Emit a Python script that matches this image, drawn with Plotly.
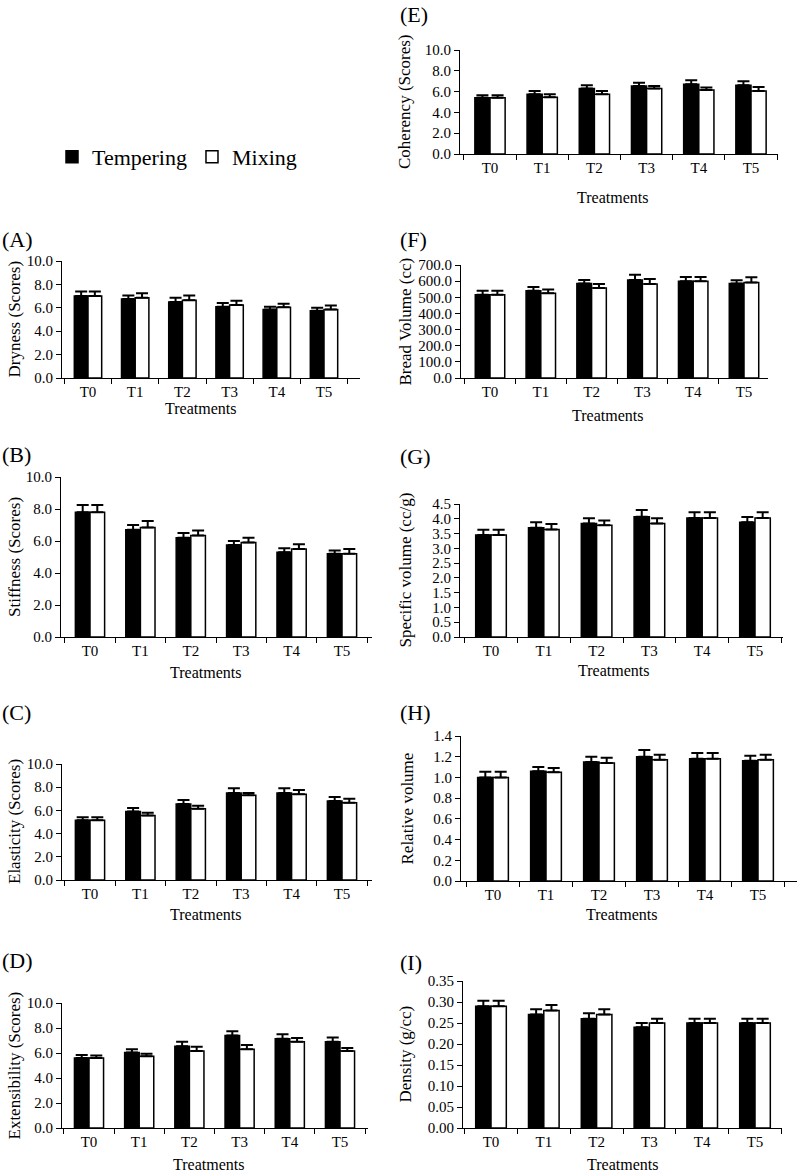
import plotly.graph_objects as go

treatments = ["T0", "T1", "T2", "T3", "T4", "T5"]

# (A) Dryness
dryness_tempering = [7.0, 6.75, 6.5, 6.1, 5.85, 5.75]
dryness_tempering_err = [0.4, 0.3, 0.35, 0.3, 0.25, 0.25]
dryness_mixing = [7.0, 6.85, 6.65, 6.25, 6.05, 5.85]
dryness_mixing_err = [0.4, 0.4, 0.4, 0.35, 0.3, 0.35]

# (B) Stiffness
stiffness_tempering = [7.8, 6.7, 6.2, 5.75, 5.3, 5.2]
stiffness_tempering_err = [0.45, 0.3, 0.3, 0.25, 0.25, 0.2]
stiffness_mixing = [7.8, 6.85, 6.35, 5.9, 5.5, 5.2]
stiffness_mixing_err = [0.45, 0.4, 0.3, 0.3, 0.3, 0.3]

# (C) Elasticity
elasticity_tempering = [5.15, 5.9, 6.55, 7.5, 7.5, 6.8]
elasticity_tempering_err = [0.25, 0.3, 0.35, 0.4, 0.4, 0.35]
elasticity_mixing = [5.15, 5.55, 6.15, 7.3, 7.4, 6.65]
elasticity_mixing_err = [0.25, 0.25, 0.25, 0.2, 0.35, 0.35]

# (D) Extensibility
extensibility_tempering = [5.6, 6.05, 6.55, 7.4, 7.15, 6.9]
extensibility_tempering_err = [0.25, 0.25, 0.35, 0.35, 0.35, 0.35]
extensibility_mixing = [5.6, 5.75, 6.15, 6.3, 6.9, 6.15]
extensibility_mixing_err = [0.2, 0.2, 0.35, 0.35, 0.3, 0.25]

# (E) Coherency
coherency_tempering = [5.4, 5.75, 6.3, 6.55, 6.7, 6.6]
coherency_tempering_err = [0.25, 0.3, 0.3, 0.3, 0.4, 0.4]
coherency_mixing = [5.4, 5.45, 5.75, 6.3, 6.15, 6.05]
coherency_mixing_err = [0.25, 0.3, 0.3, 0.25, 0.25, 0.4]

# (F) Bread volume
volume_tempering = [515, 540, 585, 607, 600, 585]
volume_tempering_err = [25, 23, 22, 32, 25, 20]
volume_mixing = [515, 525, 558, 583, 600, 591]
volume_mixing_err = [25, 23, 25, 30, 25, 33]

# (G) Specific volume
specific_tempering = [3.45, 3.7, 3.84, 4.07, 4.03, 3.88]
specific_tempering_err = [0.18, 0.18, 0.18, 0.23, 0.19, 0.18]
specific_mixing = [3.45, 3.64, 3.78, 3.84, 4.03, 4.03]
specific_mixing_err = [0.18, 0.18, 0.16, 0.18, 0.19, 0.19]

# (H) Relative volume
relative_tempering = [1.0, 1.06, 1.15, 1.2, 1.18, 1.16]
relative_tempering_err = [0.055, 0.04, 0.05, 0.065, 0.055, 0.05]
relative_mixing = [1.0, 1.05, 1.14, 1.17, 1.18, 1.17]
relative_mixing_err = [0.055, 0.04, 0.05, 0.05, 0.055, 0.05]

# (I) Density
density_tempering = [0.29, 0.27, 0.26, 0.24, 0.25, 0.25]
density_tempering_err = [0.013, 0.013, 0.013, 0.01, 0.01, 0.01]
density_mixing = [0.29, 0.28, 0.27, 0.25, 0.25, 0.25]
density_mixing_err = [0.013, 0.013, 0.013, 0.01, 0.01, 0.01]

W, H = 798, 1173
FONT = "Liberation Serif, Times New Roman, serif"


def fx(v):
    return v / W


def fy(v):
    return 1 - v / H


# letter, y title, data, y max, dtick, format, then pixel layout:
# x0, x1, top, bottom, centre of T0, centre of T5, label y, title x, treatments x, treatments y
panels = [
    ("(A)", "Dryness (Scores)", dryness_tempering, dryness_tempering_err, dryness_mixing, dryness_mixing_err,
     10, 2, ".1f", 62, 360, 261, 378, 88, 324, 239, 14, 200, 409),
    ("(B)", "Stiffness (Scores)", stiffness_tempering, stiffness_tempering_err, stiffness_mixing, stiffness_mixing_err,
     10, 2, ".1f", 61, 372, 477, 637, 90, 342, 454, 14, 205, 672),
    ("(C)", "Elasticity (Scores)", elasticity_tempering, elasticity_tempering_err, elasticity_mixing, elasticity_mixing_err,
     10, 2, ".1f", 62, 372, 764, 880, 90, 342, 713, 14, 205, 914),
    ("(D)", "Extensibility (Scores)", extensibility_tempering, extensibility_tempering_err, extensibility_mixing, extensibility_mixing_err,
     10, 2, ".1f", 62, 368, 1003, 1128, 89, 340, 960, 14, 208, 1164),
    ("(E)", "Coherency (Scores)", coherency_tempering, coherency_tempering_err, coherency_mixing, coherency_mixing_err,
     10, 2, ".1f", 460, 778, 50, 154, 490, 751, 14, 405, 612, 197),
    ("(F)", "Bread Volume (cc)", volume_tempering, volume_tempering_err, volume_mixing, volume_mixing_err,
     700, 100, ".1f", 461, 768, 265, 378, 490, 744, 239, 405, 607, 415),
    ("(G)", "Specific volume (cc/g)", specific_tempering, specific_tempering_err, specific_mixing, specific_mixing_err,
     4.5, 0.5, ".1f", 460, 783, 504, 637, 491, 755, 456, 405, 613, 670),
    ("(H)", "Relative volume", relative_tempering, relative_tempering_err, relative_mixing, relative_mixing_err,
     1.4, 0.2, ".1f", 461, 797, 736, 881, 493, 758, 713, 407, 621, 914),
    ("(I)", "Density (g/cc)", density_tempering, density_tempering_err, density_mixing, density_mixing_err,
     0.35, 0.05, ".2f", 463, 782, 981, 1128, 491, 755, 962, 405, 622, 1164),
]

fig = go.Figure()
annotations = []
layout = {}

for i, p in enumerate(panels):
    (letter, ytitle, temp, temp_err, mix, mix_err, ymax, dtick, fmt,
     x0, x1, top, bot, c0, c5, label_y, title_x, treat_x, treat_y) = p
    n = "" if i == 0 else str(i + 1)
    xa, ya = "x" + n, "y" + n

    fig.add_trace(go.Bar(
        x=treatments, y=temp, name="Tempering", xaxis=xa, yaxis=ya,
        marker=dict(color="black", line=dict(color="black", width=1.5)),
        error_y=dict(type="data", array=temp_err, arrayminus=[0] * 6, symmetric=False,
                     color="black", thickness=2, width=6),
        showlegend=(i == 0), legendgroup="t",
    ))
    fig.add_trace(go.Bar(
        x=treatments, y=mix, name="Mixing", xaxis=xa, yaxis=ya,
        marker=dict(color="white", line=dict(color="black", width=1.5)),
        error_y=dict(type="data", array=mix_err, arrayminus=[0] * 6, symmetric=False,
                     color="black", thickness=2, width=6),
        showlegend=(i == 0), legendgroup="m",
    ))

    s = (c5 - c0) / 5
    lo = (x0 - c0) / s
    hi = 5 + (x1 - c5) / s
    layout["xaxis" + n] = dict(
        domain=[fx(x0), fx(x1)], anchor=ya, type="category", range=[lo, hi],
        showline=True, linecolor="black", linewidth=1, ticks="outside",
        tickson="boundaries", ticklen=5, tickcolor="black", showgrid=False,
        zeroline=False, automargin=False,
        tickfont=dict(size=15, color="black", family=FONT),
    )
    layout["yaxis" + n] = dict(
        domain=[fy(bot), fy(top)], anchor=xa, range=[0, ymax], dtick=dtick,
        tickformat=fmt, showline=True, linecolor="black", linewidth=1,
        ticks="outside", ticklen=5, tickcolor="black", showgrid=False,
        zeroline=False, automargin=False,
        tickfont=dict(size=15, color="black", family=FONT),
    )

    annotations.append(dict(
        text=letter, xref="paper", yref="paper", x=fx(0 if x0 < 400 else 398),
        y=fy(label_y), xanchor="left", yanchor="middle", showarrow=False,
        font=dict(size=22, color="black", family=FONT),
    ))
    annotations.append(dict(
        text=ytitle, xref="paper", yref="paper", x=fx(title_x), y=fy((top + bot) / 2),
        xanchor="center", yanchor="middle", textangle=-90, showarrow=False,
        font=dict(size=17, color="black", family=FONT),
    ))
    annotations.append(dict(
        text="Treatments", xref="paper", yref="paper", x=fx(treat_x), y=fy(treat_y),
        xanchor="center", yanchor="middle", showarrow=False,
        font=dict(size=16, color="black", family=FONT),
    ))

fig.update_layout(
    template="none",
    width=W, height=H, margin=dict(l=0, r=0, t=0, b=0, autoexpand=False),
    paper_bgcolor="white", plot_bgcolor="white",
    barmode="group", bargap=0.42, bargroupgap=0,
    font=dict(family=FONT, color="black"),
    showlegend=True,
    legend=dict(orientation="h", x=fx(52), y=fy(157), xanchor="left", yanchor="middle",
                font=dict(size=22, color="black", family=FONT), bgcolor="rgba(0,0,0,0)",
                itemwidth=30, tracegroupgap=0),
    annotations=annotations,
    **layout,
)

# the page body has a default 8px margin; drop it so the figure sits at the window's corner
fig.write_html("out.html", config={"displayModeBar": False},
               post_script="document.body.style.margin = '0';")
